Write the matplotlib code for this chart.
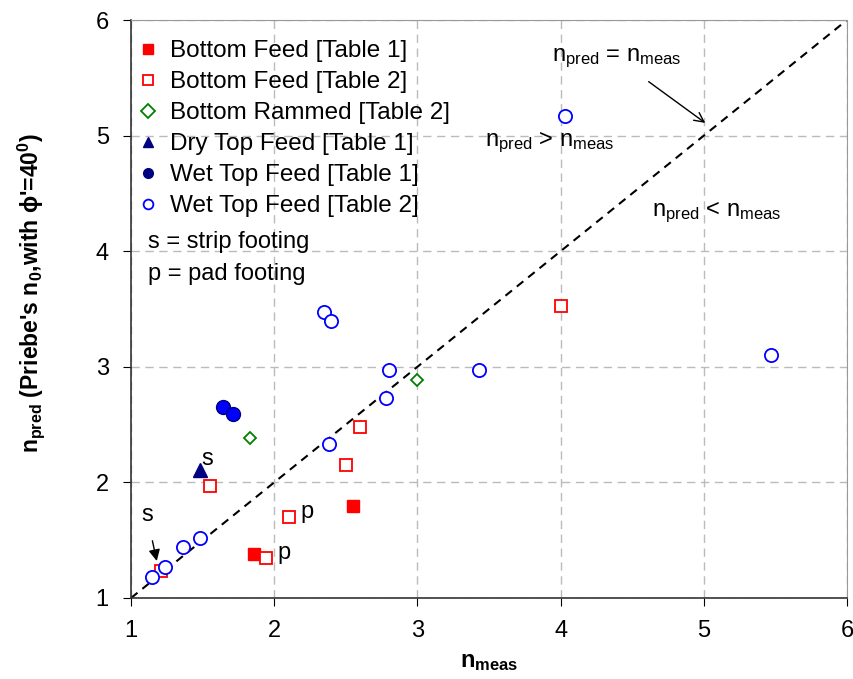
import matplotlib
matplotlib.use("Agg")
import matplotlib.pyplot as plt

plt.rcParams['font.family'] = ['Liberation Sans', 'DejaVu Sans']
plt.rcParams['mathtext.fontset'] = 'custom'
plt.rcParams['mathtext.rm'] = 'Liberation Sans'
plt.rcParams['mathtext.it'] = 'Liberation Sans'
plt.rcParams['mathtext.bf'] = 'Liberation Sans:bold'

# data (n_meas, n_pred)
bf1_x = [1.86, 2.55]
bf1_y = [1.38, 1.80]
bf2_x = [1.21, 1.55, 2.10, 1.94, 2.50, 2.60, 4.00]
bf2_y = [1.23, 1.97, 1.70, 1.35, 2.15, 2.48, 3.53]
br2_x = [1.83, 3.00]
br2_y = [2.38, 2.89]
dry1_x = [1.48]
dry1_y = [2.11]
wet1_x = [1.64, 1.71]
wet1_y = [2.65, 2.59]
wet2_x = [1.15, 1.24, 1.36, 1.48, 2.35, 2.40, 2.38, 2.78, 2.80, 3.43, 4.03, 5.47]
wet2_y = [1.18, 1.27, 1.44, 1.52, 3.47, 3.40, 2.33, 2.73, 2.97, 2.97, 5.17, 3.10]

fig = plt.figure(figsize=(8.54, 6.79), dpi=100)
ax = fig.add_axes([0.1534, 0.1193, 0.8384, 0.8512])

ax.plot([1, 6], [1, 6], color='black', linestyle=(0, (4, 3)), linewidth=1.5, zorder=2)

ax.plot(bf1_x, bf1_y, 's', color='red', markersize=9, linestyle='none',
        label='Bottom Feed [Table 1]', zorder=3)
ax.plot(bf2_x, bf2_y, 's', markerfacecolor='white', markeredgecolor='red', markeredgewidth=1.3,
        markersize=9, linestyle='none', label='Bottom Feed [Table 2]', zorder=3)
ax.plot(br2_x, br2_y, 'D', markerfacecolor='white', markeredgecolor='green', markeredgewidth=1.3,
        markersize=6.5, linestyle='none', label='Bottom Rammed [Table 2]', zorder=3)
ax.plot(dry1_x, dry1_y, '^', color='#000080', markersize=9.5, linestyle='none',
        label='Dry Top Feed [Table 1]', zorder=3)
ax.plot(wet1_x, wet1_y, 'o', markerfacecolor='#0000ff', markeredgecolor='#000080', markeredgewidth=1,
        markersize=10, linestyle='none', label='Wet Top Feed [Table 1]', zorder=3)
ax.plot(wet2_x, wet2_y, 'o', markerfacecolor='white', markeredgecolor='blue', markeredgewidth=1.3,
        markersize=9.5, linestyle='none', label='Wet Top Feed [Table 2]', zorder=3)

ax.set_xlim(1, 6)
ax.set_ylim(1, 6)
ax.set_xticks([1, 2, 3, 4, 5, 6])
ax.set_yticks([1, 2, 3, 4, 5, 6])
ax.tick_params(labelsize=17, direction='out', length=6, pad=10)
ax.grid(True, color='#bbbbbb', linestyle=(0, (6, 4)), linewidth=1)
for side in ['top', 'right']:
    ax.spines[side].set_color('#999999')
for side in ['left', 'bottom']:
    ax.spines[side].set_color('#333333')
    ax.spines[side].set_linewidth(1.2)

ax.set_xlabel(r'$\mathbf{n_{meas}}$', fontsize=17, labelpad=6)
ax.set_ylabel(r"$\mathbf{n_{pred}}$ (Priebe's $\mathbf{n_0}$,with ϕ'=40$\mathbf{^0}$)",
              fontsize=16.5, fontweight='bold')
ax.yaxis.set_label_coords(-0.118, 0.528)

leg = ax.legend(loc='upper left', bbox_to_anchor=(-0.014, 0.999), frameon=False, fontsize=17.5,
                handlelength=0.6, handletextpad=0.6, labelspacing=0.37, borderaxespad=0.4,
                numpoints=1)
for h in leg.legend_handles:
    h.set_markersize(7)
leg.legend_handles[4].set_markerfacecolor('#000080')

ax.text(1.12, 4.08, 's = strip footing', fontsize=17, va='center', ha='left')
ax.text(1.12, 3.80, 'p = pad footing', fontsize=17, va='center', ha='left')

ax.annotate(r'$\mathregular{n_{pred}}$ = $\mathregular{n_{meas}}$', xy=(5.01, 5.11), xytext=(4.39, 5.67),
            fontsize=17, ha='center', va='center',
            arrowprops=dict(arrowstyle='->', color='black', lw=1, shrinkA=11, shrinkB=0))
ax.text(3.92, 4.94, r'$\mathregular{n_{pred}}$ > $\mathregular{n_{meas}}$', fontsize=17, ha='center', va='center')
ax.text(5.09, 4.34, r'$\mathregular{n_{pred}}$ < $\mathregular{n_{meas}}$', fontsize=17, ha='center', va='center')

ax.text(1.53, 2.20, 's', fontsize=17, ha='center', va='center')
ax.annotate('s', xy=(1.18, 1.32), xytext=(1.11, 1.72), fontsize=17, ha='center', va='center',
            arrowprops=dict(arrowstyle='-|>', color='black', lw=1, shrinkA=9, shrinkB=0))
ax.text(2.23, 1.74, 'p', fontsize=17, ha='center', va='center')
ax.text(2.07, 1.39, 'p', fontsize=17, ha='center', va='center')

fig.savefig('out.png', dpi=100)
